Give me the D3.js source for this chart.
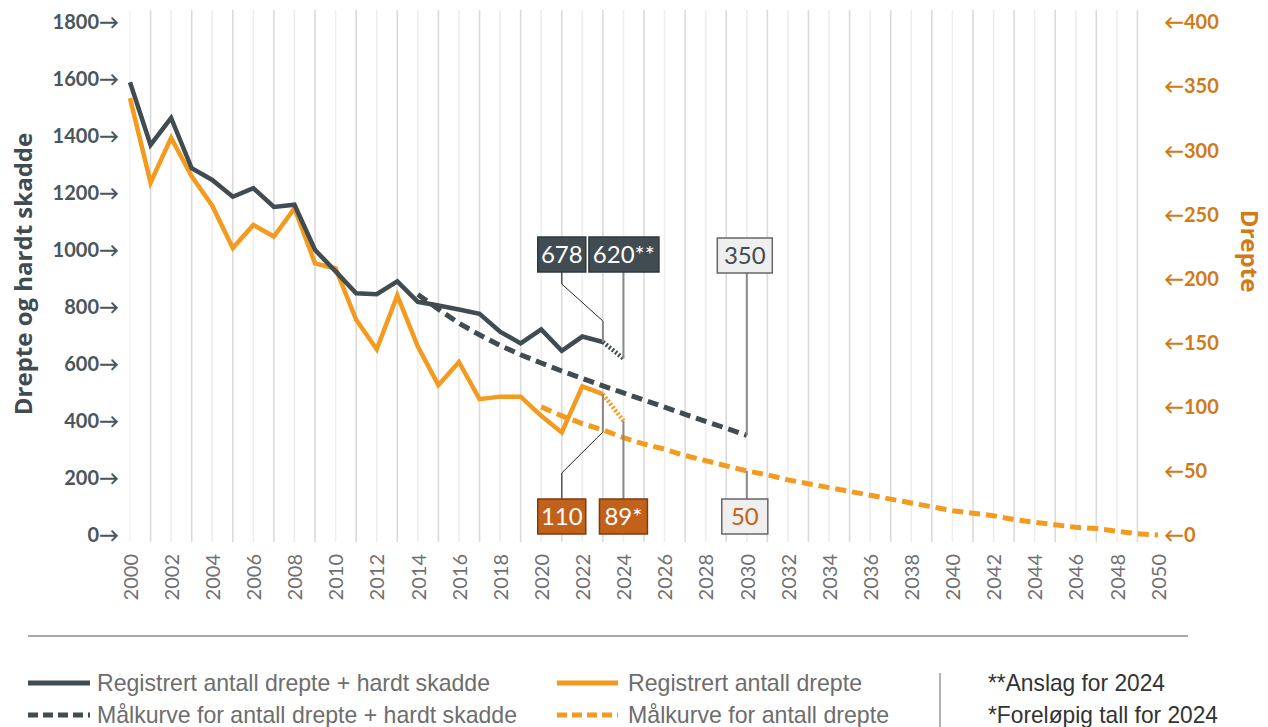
<!DOCTYPE html>
<html><head><meta charset="utf-8">
<script src="https://cdn.jsdelivr.net/npm/d3@7"></script>
<style>
html,body{margin:0;padding:0;background:#fff;}
svg{display:block;}
</style></head>
<body>
<svg id="chart" width="1268" height="727"></svg>
<script>
// ---------- DATA ----------
const years = d3.range(2000, 2025);
const regDrepteSkadde = [1590, 1370, 1465, 1288, 1247, 1188, 1218, 1152, 1160, 1001, 926, 849, 846, 891, 819, 806, 792, 777, 714, 673, 722, 647, 697, 678, 620];
const regDrepte = [341, 275, 310, 280, 257, 224, 242, 233, 255, 212, 208, 168, 145, 187, 147, 117, 135, 106, 108, 108, 93, 80, 116, 110, 89];
const maalDSYears = d3.range(2014, 2031);
const maalDrepteSkadde = [845, 793, 744, 703, 666, 633, 604, 576, 550, 524, 499, 474, 449, 424, 399, 375, 350];
const maalDYears = d3.range(2020, 2051);
const maalDrepte = [100, 93, 87, 82, 76, 71, 67, 62, 58, 54, 50, 47, 43, 40, 37, 34, 31, 28, 25, 22, 19, 17, 15, 12, 10, 8, 6, 5, 3, 1, 0];
const leftTicks = [0, 200, 400, 600, 800, 1000, 1200, 1400, 1600, 1800];
const rightTicks = [0, 50, 100, 150, 200, 250, 300, 350, 400];
const xTickYears = d3.range(2000, 2051, 2);
const gridYears = d3.range(2000, 2050);
const labelsLeft = ["678", "620**", "350"];
const labelsRight = ["110", "89*", "50"];
const legendItems = ["Registrert antall drepte + hardt skadde", "Målkurve for antall drepte + hardt skadde", "Registrert antall drepte", "Målkurve for antall drepte"];
const notes = ["**Anslag for 2024", "*Foreløpig tall for 2024"];

// ---------- STYLE ----------
const DARK = "#404b52", ORANGE = "#f49a1f", BROWN = "#c2621a", RAXIS = "#d07b17";
const svg = d3.select("#chart");
svg.append("rect").attr("width", 1268).attr("height", 727).attr("fill", "#fff");

const x = d3.scaleLinear().domain([2000, 2050]).range([130, 1158]);
const yL = d3.scaleLinear().domain([0, 1800]).range([535, 22.5]);
const yR = d3.scaleLinear().domain([0, 400]).range([535, 22.5]);

// gridlines
svg.append("g").selectAll("line").data(gridYears).join("line")
  .attr("x1", d => x(d)).attr("x2", d => x(d))
  .attr("y1", 10).attr("y2", 542)
  .attr("stroke", d => d === 2000 ? "#f4f4f4" : (d % 2 ? "#dadada" : "#eeeeee"))
  .attr("stroke-width", 1.6);

// left axis
const gL = svg.append("g").attr("transform", "translate(119,0)")
  .call(d3.axisLeft(yL).tickValues(leftTicks).tickSize(0).tickPadding(0).tickFormat(d => d + "→"));
gL.select(".domain").remove();
gL.selectAll("text").attr("font-family", "Lato, 'Open Sans', sans-serif").attr("font-weight", 700)
  .attr("font-size", 20).attr("fill", "#4a555c");

// right axis
const gR = svg.append("g").attr("transform", "translate(1164,0)")
  .call(d3.axisRight(yR).tickValues(rightTicks).tickSize(0).tickPadding(0).tickFormat(d => "←" + d));
gR.select(".domain").remove();
gR.selectAll("text").attr("font-family", "Lato, 'Open Sans', sans-serif").attr("font-weight", 700)
  .attr("font-size", 20).attr("fill", RAXIS);

// x axis
const gX = svg.append("g").attr("transform", "translate(0,554)")
  .call(d3.axisBottom(x).tickValues(xTickYears).tickSize(0).tickFormat(d => String(d)));
gX.select(".domain").remove();
gX.selectAll("text")
  .attr("transform", "rotate(-90)").attr("text-anchor", "end")
  .attr("x", 0).attr("y", 0).attr("dy", "0.36em")
  .attr("font-family", "Lato, 'Open Sans', sans-serif").attr("font-size", 20).attr("fill", "#707070");

// axis titles
svg.append("text").attr("transform", "translate(32,274) rotate(-90)")
  .attr("text-anchor", "middle").attr("font-family", "'Open Sans', Lato, sans-serif")
  .attr("font-weight", 700).attr("font-size", 24).attr("fill", DARK).text("Drepte og hardt skadde");
svg.append("text").attr("transform", "translate(1241,251) rotate(90)")
  .attr("text-anchor", "middle").attr("font-family", "'Open Sans', Lato, sans-serif")
  .attr("font-weight", 700).attr("font-size", 24).attr("fill", RAXIS).text("Drepte");

// ---------- LINES ----------
const lineL = d3.line().x(d => x(d[0])).y(d => yL(d[1]));
const lineR = d3.line().x(d => x(d[0])).y(d => yR(d[1]));
const ds = years.map((y, i) => [y, regDrepteSkadde[i]]);
const dk = years.map((y, i) => [y, regDrepte[i]]);
const tds = maalDSYears.map((y, i) => [y, maalDrepteSkadde[i]]);
const tdk = maalDYears.map((y, i) => [y, maalDrepte[i]]);

// targets
svg.append("path").attr("d", lineR(tdk)).attr("fill", "none").attr("stroke", ORANGE)
  .attr("stroke-width", 5).attr("stroke-dasharray", "11 6");
svg.append("path").attr("d", lineL(tds)).attr("fill", "none").attr("stroke", DARK)
  .attr("stroke-width", 5).attr("stroke-dasharray", "11 6");

// registered (solid through 2023, dotted 2023-2024)
svg.append("path").attr("d", lineR(dk.slice(0, 24))).attr("fill", "none").attr("stroke", ORANGE)
  .attr("stroke-width", 4.5).attr("stroke-linejoin", "miter");
svg.append("path").attr("d", lineR(dk.slice(23))).attr("fill", "none").attr("stroke", ORANGE)
  .attr("stroke-width", 4.5).attr("stroke-dasharray", "2 2");
svg.append("path").attr("d", lineL(ds.slice(0, 24))).attr("fill", "none").attr("stroke", DARK)
  .attr("stroke-width", 4.5).attr("stroke-linejoin", "miter");
svg.append("path").attr("d", lineL(ds.slice(23))).attr("fill", "none").attr("stroke", DARK)
  .attr("stroke-width", 4.5).attr("stroke-dasharray", "2 2");

// ---------- ANNOTATIONS ----------
const ann = svg.append("g");
function conn(points, color, w) {
  ann.append("path").attr("d", d3.line()(points)).attr("fill", "none").attr("stroke", color).attr("stroke-width", w);
}
// connectors (top)
conn([[x(2021), 272], [x(2021), 284]], "#555", 1.5);
conn([[x(2021), 284], [x(2023), 321]], "#222", 1);
conn([[x(2023), 321], [x(2023), yL(678)]], "#888", 2);
conn([[x(2024), 272], [x(2024), yL(620)]], "#888", 2);
conn([[x(2030), 272], [x(2030), yL(350)]], "#888", 2);
// connectors (bottom)
conn([[x(2021), 499], [x(2021), 473]], "#555", 1.5);
conn([[x(2021), 473], [x(2023), 432]], "#222", 1);
conn([[x(2023), 432], [x(2023), yR(110)]], "#888", 2);
conn([[x(2024), 499], [x(2024), yR(89)]], "#888", 2);
conn([[x(2030), 499], [x(2030), yR(50)]], "#888", 2);

function box(cx, top, w, label, fill, stroke, color) {
  ann.append("rect").attr("x", cx - w / 2).attr("y", top).attr("width", w).attr("height", 35)
    .attr("fill", fill).attr("stroke", stroke).attr("stroke-width", 1.5);
  ann.append("text").attr("x", cx).attr("y", top + 18).attr("dy", "0.35em").attr("text-anchor", "middle")
    .attr("font-family", "Lato, 'Open Sans', sans-serif").attr("font-size", 24)
    .attr("fill", color).text(label);
}
box(x(2021), 237, 48, labelsLeft[0], DARK, "#2f383d", "#fff");
box(x(2024) + 0.5, 237, 70, labelsLeft[1], DARK, "#2f383d", "#fff");
box(x(2030) - 2, 238, 55, labelsLeft[2], "#efefef", "#666", DARK);
box(x(2021), 499, 48, labelsRight[0], BROWN, "#7a3d10", "#fff");
box(x(2024), 499, 48, labelsRight[1], BROWN, "#7a3d10", "#fff");
box(x(2030) - 2, 499, 46, labelsRight[2], "#efefef", "#666", BROWN);

// ---------- LEGEND ----------
svg.append("line").attr("x1", 28).attr("x2", 1188).attr("y1", 636).attr("y2", 636)
  .attr("stroke", "#a8a8a8").attr("stroke-width", 2);
const leg = svg.append("g");
const legDefs = [
  {x0: 28, x1: 90, y: 683, color: DARK, dash: null, tx: 97, tl: 393, label: legendItems[0]},
  {x0: 28, x1: 90, y: 715, color: DARK, dash: "10 5", tx: 97, tl: 420, label: legendItems[1]},
  {x0: 557, x1: 618, y: 683, color: ORANGE, dash: null, tx: 628, tl: 234, label: legendItems[2]},
  {x0: 557, x1: 618, y: 715, color: ORANGE, dash: "10 5", tx: 628, tl: 261, label: legendItems[3]}
];
legDefs.forEach(d => {
  const l = leg.append("line").attr("x1", d.x0).attr("x2", d.x1).attr("y1", d.y).attr("y2", d.y)
    .attr("stroke", d.color).attr("stroke-width", 5);
  if (d.dash) l.attr("stroke-dasharray", d.dash);
  leg.append("text").attr("x", d.tx).attr("y", d.y).attr("dy", "0.35em")
    .attr("font-family", "'Liberation Sans Narrow', 'Liberation Sans', sans-serif").attr("font-size", 24)
    .attr("fill", "#6d6d6d").attr("textLength", d.tl).attr("lengthAdjust", "spacingAndGlyphs").text(d.label);
});
leg.append("line").attr("x1", 940).attr("x2", 940).attr("y1", 673).attr("y2", 727)
  .attr("stroke", "#9a9a9a").attr("stroke-width", 1.5);
[[notes[0], 683, 177], [notes[1], 715, 230]].forEach(([t, y, tl]) => {
  leg.append("text").attr("x", 988).attr("y", y).attr("dy", "0.35em")
    .attr("font-family", "'Liberation Sans Narrow', 'Liberation Sans', sans-serif").attr("font-size", 24)
    .attr("fill", "#333").attr("textLength", tl).attr("lengthAdjust", "spacingAndGlyphs").text(t);
});
</script>
</body></html>
